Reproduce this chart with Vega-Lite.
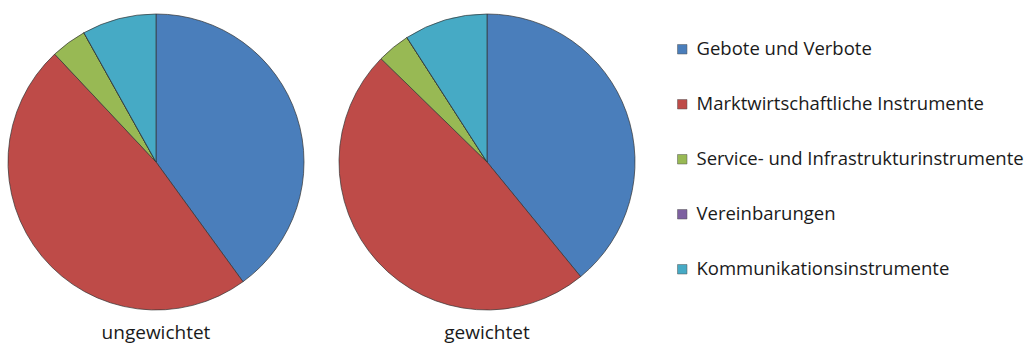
{
  "$schema": "https://vega.github.io/schema/vega-lite/v6.json",
  "background": "white",
  "padding": {"left": 6, "top": 12, "right": 0, "bottom": 0},
  "data": {"values": [
    {"gruppe": "ungewichtet", "kategorie": "Gebote und Verbote", "rang": 1, "anteil": 40.0},
    {"gruppe": "ungewichtet", "kategorie": "Marktwirtschaftliche Instrumente", "rang": 2, "anteil": 48.0},
    {"gruppe": "ungewichtet", "kategorie": "Service- und Infrastrukturinstrumente", "rang": 3, "anteil": 3.9},
    {"gruppe": "ungewichtet", "kategorie": "Vereinbarungen", "rang": 4, "anteil": 0},
    {"gruppe": "ungewichtet", "kategorie": "Kommunikationsinstrumente", "rang": 5, "anteil": 8.1},
    {"gruppe": "gewichtet", "kategorie": "Gebote und Verbote", "rang": 1, "anteil": 39.1},
    {"gruppe": "gewichtet", "kategorie": "Marktwirtschaftliche Instrumente", "rang": 2, "anteil": 48.2},
    {"gruppe": "gewichtet", "kategorie": "Service- und Infrastrukturinstrumente", "rang": 3, "anteil": 3.6},
    {"gruppe": "gewichtet", "kategorie": "Vereinbarungen", "rang": 4, "anteil": 0},
    {"gruppe": "gewichtet", "kategorie": "Kommunikationsinstrumente", "rang": 5, "anteil": 9.1}
  ]},
  "facet": {
    "column": {
      "field": "gruppe",
      "type": "nominal",
      "sort": ["ungewichtet", "gewichtet"],
      "header": {"title": null, "labelOrient": "bottom", "labelFont": "Open Sans", "labelFontSize": 19, "labelColor": "#1a1a1a", "labelPadding": 12}
    }
  },
  "spacing": 31,
  "spec": {
    "width": 296,
    "height": 296,
    "mark": {"type": "arc", "stroke": "#333333", "strokeWidth": 0.7},
    "encoding": {
      "theta": {"field": "anteil", "type": "quantitative", "stack": true},
      "order": {"field": "rang", "type": "quantitative"},
      "color": {
        "field": "kategorie",
        "type": "nominal",
        "scale": {
          "domain": ["Gebote und Verbote", "Marktwirtschaftliche Instrumente", "Service- und Infrastrukturinstrumente", "Vereinbarungen", "Kommunikationsinstrumente"],
          "range": ["#4a7ebb", "#be4b48", "#98b954", "#7d60a0", "#46aac5"]
        },
        "legend": {
          "title": null,
          "orient": "right",
          "offset": 10,
          "padding": 26,
          "symbolType": "square",
          "symbolSize": 90,
          "symbolStrokeColor": "#555555",
          "symbolStrokeWidth": 0.5,
          "labelFont": "Open Sans",
          "labelFontSize": 18.5,
          "labelColor": "#1a1a1a",
          "labelOffset": 5,
          "rowPadding": 36,
          "labelLimit": 400
        }
      }
    }
  },
  "config": {"view": {"stroke": null}}
}
